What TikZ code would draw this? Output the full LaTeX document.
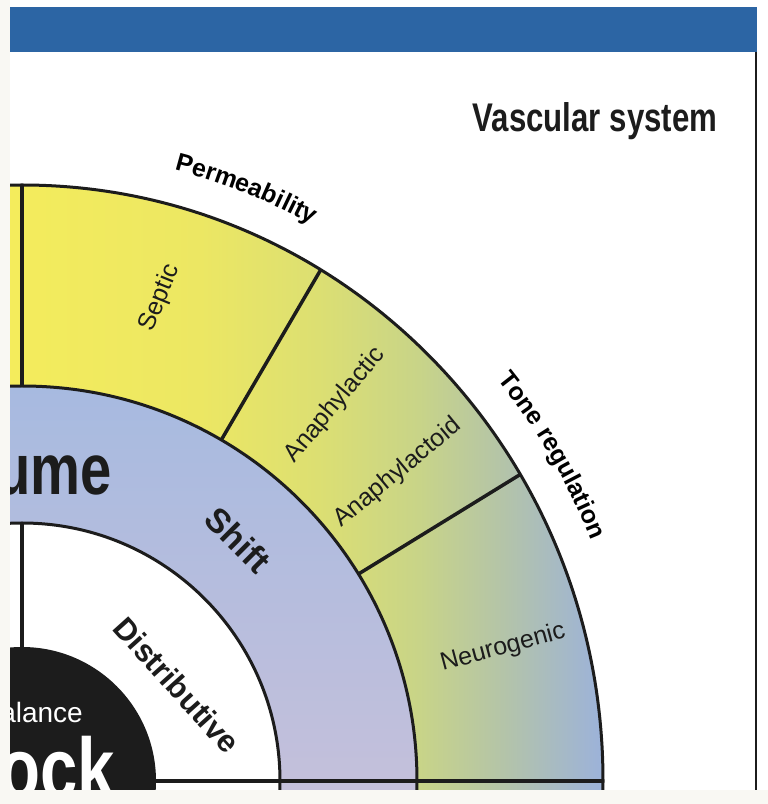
\documentclass[tikz,border=0pt]{standalone}
\usepackage{fontspec}
\setmainfont{Liberation Sans}
\newfontfamily\narrowfont[FakeStretch=0.78]{Liberation Sans}
\usetikzlibrary{decorations.text}

\definecolor{ink}{HTML}{1C1C1C}
\definecolor{barblue}{HTML}{2C65A4}
\definecolor{cream}{HTML}{F9F8F3}
\definecolor{ylwA}{HTML}{F4EC5C}
\definecolor{ylwB}{HTML}{ECE763}
\definecolor{ylwC}{HTML}{DCDF72}
\definecolor{ylwD}{HTML}{C8D488}
\definecolor{ylwE}{HTML}{B4C4A8}
\definecolor{ylwF}{HTML}{9CB2DA}
\definecolor{shiftA}{HTML}{A7BAE0}
\definecolor{shiftB}{HTML}{C4C0DB}

\pgfdeclarehorizontalshading{vascshade}{100bp}{color(0bp)=(ylwA); color(25bp)=(ylwA);
  color(41bp)=(ylwB); color(51bp)=(ylwC); color(59.5bp)=(ylwD); color(66.5bp)=(ylwE);
  color(75bp)=(ylwF); color(100bp)=(ylwF)}

\newcommand\arcfont{\fontsize{25}{28}\selectfont\bfseries}

\begin{document}
\begin{tikzpicture}[x=1pt,y=1pt,
  ring/.style={draw=ink,line width=3pt},
  spoke/.style={draw=ink,line width=3.5pt},
  lbl/.style={font=\fontsize{25}{28}\selectfont,text=ink,inner sep=0pt},
  blbl/.style={font=\fontsize{31}{34}\selectfont\bfseries,text=ink,inner sep=0pt},
  arclbl/.style={decorate,decoration={text along path,text align=center,text={|\arcfont|#1}}},
]
  % page and clipping
  \useasboundingbox (-22,-23) rectangle (746,781);
  \clip (-22,-23) rectangle (746,781);
  \fill[white] (-22,-23) rectangle (746,781);
  \fill[barblue] (-12,729) rectangle (735,774);
  \draw[ink,line width=2.5pt] (734,729) -- (734,-9);

  % outer ring (vascular system)
  \begin{scope}
    \clip (0,0) ellipse [x radius=581,y radius=596];
    \shade[shading=vascshade] (-12,-10) rectangle (581,596);
  \end{scope}
  % shift ring
  \begin{scope}
    \clip (0,0) circle (395);
    \shade[top color=shiftA,bottom color=shiftB] (-12,-10) rectangle (395,395);
  \end{scope}
  \fill[white] (0,0) circle (258);
  \fill[ink] (0,0) circle (134);

  % spokes
  \draw[spoke] (90:395) -- (90:596);
  \draw[spoke] (59.7:395) -- (59.7:592);
  \draw[spoke] (31.6:395) -- (31.6:585);
  \draw[spoke] (90:134) -- (90:258);
  \draw[spoke] (134,0) -- (581,0);

  % ring outlines
  \draw[ring] (0,0) circle (258);
  \draw[ring] (0,0) circle (395);
  \draw[ring] (0,0) ellipse [x radius=581,y radius=596];

  % titles
  \node[font=\narrowfont\fontsize{40}{46}\selectfont\bfseries,text=ink,anchor=base]
    (vasc) at (573,649) {Vascular system};
  \path[arclbl=Permeability] (80.8:616 and 631)
    arc[start angle=80.8,end angle=56.8,x radius=616,y radius=631];
  \path[arclbl=Tone regulation] (45:616 and 631)
    arc[start angle=45,end angle=17,x radius=616,y radius=631];

  % ring labels
  \node[lbl,rotate=68] (septic) at (138,483) {Septic};
  \node[lbl,rotate=50] (anaph) at (313,376) {Anaphylactic};
  \node[lbl,rotate=39.5] (anoid) at (376,308) {Anaphylactoid};
  \node[lbl,rotate=15] (neuro) at (481,133) {Neurogenic};
  \node[blbl,font=\fontsize{34}{38}\selectfont\bfseries,rotate=-45] (shift) at (216,241) {Shift};
  \node[blbl,rotate=-48] (distr) at (155,96) {Distributive};

  % centre words (cut at the page edge)
  \node[font=\narrowfont\fontsize{72}{78}\selectfont\bfseries,text=ink,anchor=base east,inner sep=0pt]
    (vol) at (90,286) {ume};
  \node[font=\fontsize{28}{32}\selectfont,text=white,anchor=base east,inner sep=0pt]
    (imbal) at (61,58) {alance};
  \node[font=\narrowfont\fontsize{86}{92}\selectfont\bfseries,text=white,anchor=base east,inner sep=0pt]
    (shock) at (93,-17) {ock};

  % cream margins
  \fill[cream] (-22,-23) rectangle (-12,781);
  \fill[cream] (-22,-23) rectangle (746,-9);
\end{tikzpicture}
\end{document}
